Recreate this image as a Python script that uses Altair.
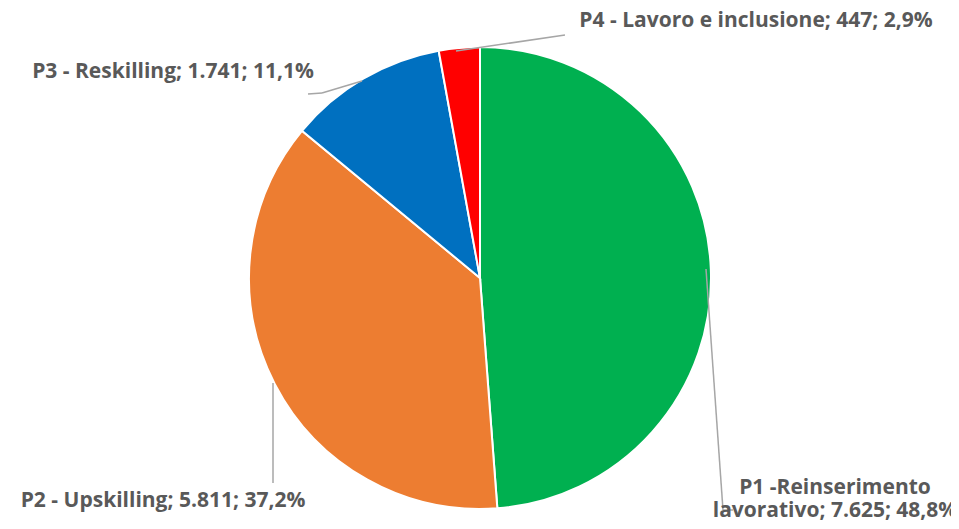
import altair as alt
import pandas as pd

categories = ["P1 -Reinserimento lavorativo", "P2 - Upskilling", "P3 - Reskilling", "P4 - Lavoro e inclusione"]
values = [7625, 5811, 1741, 447]
percents = ["48,8%", "37,2%", "11,1%", "2,9%"]
colors = ["#00B050", "#ED7D31", "#0070C0", "#FF0000"]

def it_num(v):
    return f"{v:,}".replace(",", ".")

df = pd.DataFrame({"cat": categories, "value": values, "idx": list(range(4))})

# label layout (pixel positions in chart coordinates, alphabetic baseline)
label_text = [
    "P1 -Reinserimento\nlavorativo; " + it_num(values[0]) + "; " + percents[0],
    categories[1] + "; " + it_num(values[1]) + "; " + percents[1],
    categories[2] + "; " + it_num(values[2]) + "; " + percents[2],
    categories[3] + "; " + it_num(values[3]) + "; " + percents[3],
]
lab = pd.DataFrame({
    "text": label_text,
    "x": [827, 155, 165, 748],
    "y": [486, 499, 70, 19],
})

seg = pd.DataFrame({
    "x":  [698, 715, 265, 300, 314, 448],
    "y":  [261, 502, 375, 86, 85, 43],
    "x2": [715, 725, 265, 314, 354, 557],
    "y2": [502, 502, 475, 85, 73, 27],
})

CX, CY, R = 472, 270, 231

pie = alt.Chart(df).mark_arc(outerRadius=R, stroke="white", strokeWidth=2).encode(
    theta=alt.Theta("value:Q", stack=True),
    color=alt.Color("cat:N", scale=alt.Scale(domain=categories, range=colors), legend=None),
    order=alt.Order("idx:Q"),
    x=alt.value(CX),
    y=alt.value(CY),
)

lines = alt.Chart(seg).mark_rule(color="#A6A6A6", strokeWidth=1.5).encode(
    x=alt.X("x:Q", scale=None), y=alt.Y("y:Q", scale=None),
    x2="x2:Q", y2="y2:Q",
)

texts = alt.Chart(lab).mark_text(
    font="Open Sans", fontSize=21, fontWeight="bold", color="#595959",
    align="center", baseline="alphabetic", lineBreak="\n", lineHeight=23,
).encode(
    x=alt.X("x:Q", scale=None), y=alt.Y("y:Q", scale=None), text="text:N",
)

chart = alt.layer(pie, lines, texts).properties(
    width=943, height=513,
    autosize=alt.AutoSizeParams(type="fit", contains="padding"),
    padding=0,
).configure_view(stroke=None)

chart.save("out.html", embed_options={"renderer": "svg", "actions": False})
